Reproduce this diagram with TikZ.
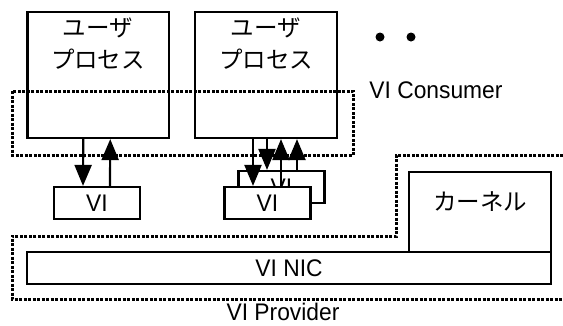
\documentclass[tikz,border=0pt]{standalone}
\usepackage{fontspec}
\setmainfont[FakeStretch=0.95]{Liberation Sans}
\newfontfamily\jpfont{Noto Sans CJK JP}
\usetikzlibrary{arrows.meta}

\begin{document}
\begin{tikzpicture}[x=1pt, y=-1pt,
    proc/.style={draw, line width=2.2pt, minimum width=141.5pt, minimum height=126pt},
    vibox/.style={draw, line width=2.2pt, fill=white, minimum width=86pt, minimum height=32pt,
                  inner sep=0pt, font=\fontsize{24}{28}\selectfont},
    jtxt/.style={font=\jpfont\fontsize{23.5}{32}\selectfont, align=center, inner sep=0pt},
    lbl/.style={font=\fontsize{24}{28}\selectfont, inner sep=0pt},
    bound/.style={line width=3pt, dash pattern=on 3pt off 1.5pt},
    arr/.style={-{Triangle[length=21pt, width=17pt]}, line width=2.2pt},
  ]
    \useasboundingbox (0,0) rectangle (563,325);

    % user processes
    \node[proc] (u1) at (98.25,75) {};
    \node[proc] (u2) at (266,75) {};
    \node[jtxt] (u1t) at (98,43.5) {ユーザ\\プロセス};
    \node[jtxt] (u2t) at (266,43.5) {ユーザ\\プロセス};

    \fill (380,37) circle (4.5pt) (411,37) circle (4.5pt);

    % VI Consumer boundary
    \draw[bound] (12,91) rectangle (353,155);
    \node[lbl] (cons) at (436,90) {VI Consumer};

    % VIs
    \node[vibox] (vi1)  at (97,203)    {VI};
    \node[vibox] (vi2b) at (281.5,187) {VI};
    \node[vibox] (vi2)  at (267.5,203) {VI};

    % VI Provider
    \node[draw, line width=2.2pt, minimum width=142pt, minimum height=80pt] (kern) at (480,212) {};
    \node[jtxt] (kernt) at (480,202) {カーネル};
    \node[draw, line width=2.2pt, minimum width=524pt, minimum height=32pt, lbl] (nic) at (289,268) {VI NIC};
    \draw[bound] (563,155) -- (396,155) -- (396,236) -- (12,236) -- (12,299) -- (563,299);
    \node[lbl] (prov) at (283,312) {VI Provider};

    % doorbells
    \draw[arr] ([xshift=-15]u1.south) -- ([xshift=-14]vi1.north);
    \draw[arr] ([xshift=13]vi1.north) -- ([xshift=12]u1.south);
    \draw[arr] ([xshift=-13]u2.south) -- ([xshift=-14.5]vi2.north);
    \draw[arr] ([xshift=1]u2.south) -- ([xshift=-14.5]vi2b.north);
    \draw[arr] ([xshift=13.5]vi2.north) -- ([xshift=15]u2.south);
    \draw[arr] ([xshift=15.5]vi2b.north) -- ([xshift=31]u2.south);
\end{tikzpicture}
\end{document}
